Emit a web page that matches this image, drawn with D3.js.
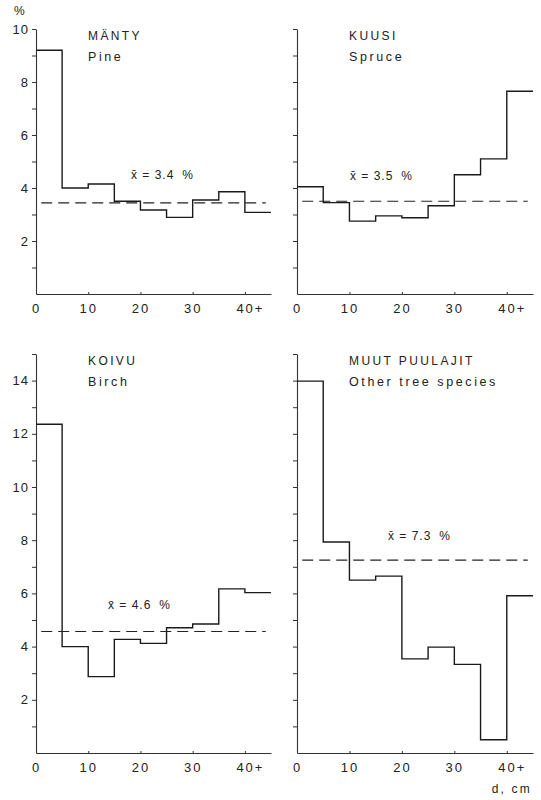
<!DOCTYPE html>
<html>
<head>
<meta charset="utf-8">
<script src="https://cdn.jsdelivr.net/npm/d3@7"></script>
<style>
  body { margin: 0; background: #fff; }
  svg text { font-family: "Liberation Sans", Arial, sans-serif; fill: #222; }
</style>
</head>
<body>
<div class="graph"></div>
<script>
// diameter classes (cm), class start values
const bins = [0, 5, 10, 15, 20, 25, 30, 35, 40];
const xTicks = [0, 10, 20, 30, 40];
const xTickLabels = ["0", "10", "20", "30", "40+"];

// share per diameter class, %
const pineValues = [9.2, 4.0, 4.15, 3.5, 3.17, 2.89, 3.55, 3.86, 3.08];
const spruceValues = [4.05, 3.45, 2.75, 2.95, 2.88, 3.33, 4.5, 5.1, 7.65];
const birchValues = [12.36, 4.0, 2.87, 4.27, 4.12, 4.71, 4.85, 6.17, 6.03];
const otherValues = [13.98, 7.93, 6.5, 6.65, 3.54, 3.98, 3.33, 0.5, 5.91];

// means
const meanValues = [3.44, 3.5, 4.57, 7.25];
const meanLabels = ["3.4", "3.5", "4.6", "7.3"];

// titles
const titlesFi = ["MÄNTY", "KUUSI", "KOIVU", "MUUT PUULAJIT"];
const titlesEn = ["Pine", "Spruce", "Birch", "Other tree species"];

const WIDTH = 541, HEIGHT = 800;

let svg = d3.select(".graph")
    .append("svg")
    .attr("width", WIDTH)
    .attr("height", HEIGHT);

//Panel layout (pixels)
const panels = [
    { values: pineValues,   left: 36,  right: 271, bottom: 294, top: 29,  yMax: 10, labels: true,  meanX: 95,  meanDy: 24 },
    { values: spruceValues, left: 297, right: 533, bottom: 294, top: 29,  yMax: 10, labels: false, meanX: 53,  meanDy: 21 },
    { values: birchValues,  left: 36,  right: 271, bottom: 753, top: 354, yMax: 15, labels: true,  meanX: 72,  meanDy: 22 },
    { values: otherValues,  left: 297, right: 533, bottom: 753, top: 354, yMax: 15, labels: false, meanX: 91,  meanDy: 20 }
];

panels.forEach((p, i) => drawPanel(p, i));

//% label on the first panel
svg.append("text")
    .attr("x", 14)
    .attr("y", 15)
    .attr("font-size", "12px")
    .text("%");

//d, cm label
svg.append("text")
    .attr("x", 532)
    .attr("y", 793)
    .attr("text-anchor", "end")
    .attr("font-size", "12px")
    .style("letter-spacing", "2.2px")
    .text("d, cm");

function drawPanel(p, i) {
    let xScale = d3.scaleLinear().domain([0, 45]).range([p.left, p.right]);
    let yScale = d3.scaleLinear().domain([0, p.yMax]).range([p.bottom, p.top]);

    let g = svg.append("g");

    //y axis
    let yAxis = d3.axisLeft(yScale)
        .tickValues(d3.range(1, p.yMax + 1))
        .tickSizeInner(4)
        .tickSizeOuter(0)
        .tickPadding(3)
        .tickFormat(d => (p.labels && d % 2 === 0) ? d : "");
    g.append("g")
        .attr("transform", `translate(${p.left}, 0)`)
        .call(yAxis)
        .call(a => {
            a.select(".domain").attr("stroke", "#333").attr("stroke-width", 1.1);
            a.selectAll(".tick line").attr("stroke", "#333");
            a.selectAll(".tick text")
                .attr("font-size", "13px")
                .attr("fill", "#222")
                .style("letter-spacing", "1px");
        });

    //x axis
    let xAxis = d3.axisBottom(xScale)
        .tickValues(xTicks)
        .tickSizeInner(-2)
        .tickSizeOuter(0)
        .tickPadding(10)
        .tickFormat((d, k) => xTickLabels[k]);
    g.append("g")
        .attr("transform", `translate(0, ${p.bottom})`)
        .call(xAxis)
        .call(a => {
            a.select(".domain").attr("stroke", "#333").attr("stroke-width", 1.1);
            a.selectAll(".tick line").attr("stroke", "#333");
            a.selectAll(".tick text")
                .attr("font-size", "13px")
                .attr("fill", "#222")
                .style("letter-spacing", "2px");
            a.selectAll(".tick text")
                .filter((d, k) => k === xTicks.length - 1)
                .attr("text-anchor", "start")
                .attr("x", -9);
        });

    //step histogram
    let points = p.values.map((v, k) => [bins[k], v]);
    points.push([45, p.values[p.values.length - 1]]);
    let line = d3.line()
        .x(d => xScale(d[0]))
        .y(d => yScale(d[1]))
        .curve(d3.curveStepAfter);
    g.append("path")
        .datum(points)
        .attr("d", line)
        .attr("fill", "none")
        .attr("stroke", "#1a1a1a")
        .attr("stroke-width", 1.4);

    //mean line
    g.append("line")
        .attr("x1", xScale(1))
        .attr("x2", xScale(44))
        .attr("y1", yScale(meanValues[i]))
        .attr("y2", yScale(meanValues[i]))
        .attr("stroke", "#222")
        .attr("stroke-width", 1.1)
        .attr("stroke-dasharray", "11,6");

    let mt = g.append("text")
        .attr("x", p.left + p.meanX)
        .attr("y", yScale(meanValues[i]) - p.meanDy)
        .attr("font-size", "12px")
        .style("letter-spacing", "1px");
    mt.append("tspan").text("x\u0304 = " + meanLabels[i]);
    mt.append("tspan").attr("dx", 8).text("%");

    //titles
    g.append("text")
        .attr("x", p.left + 52)
        .attr("y", p.top + 11)
        .attr("font-size", "12px")
        .style("letter-spacing", "2.4px")
        .text(titlesFi[i]);
    g.append("text")
        .attr("x", p.left + 52)
        .attr("y", p.top + 32)
        .attr("font-size", "12.5px")
        .style("letter-spacing", "2.6px")
        .text(titlesEn[i]);
}
</script>
</body>
</html>
